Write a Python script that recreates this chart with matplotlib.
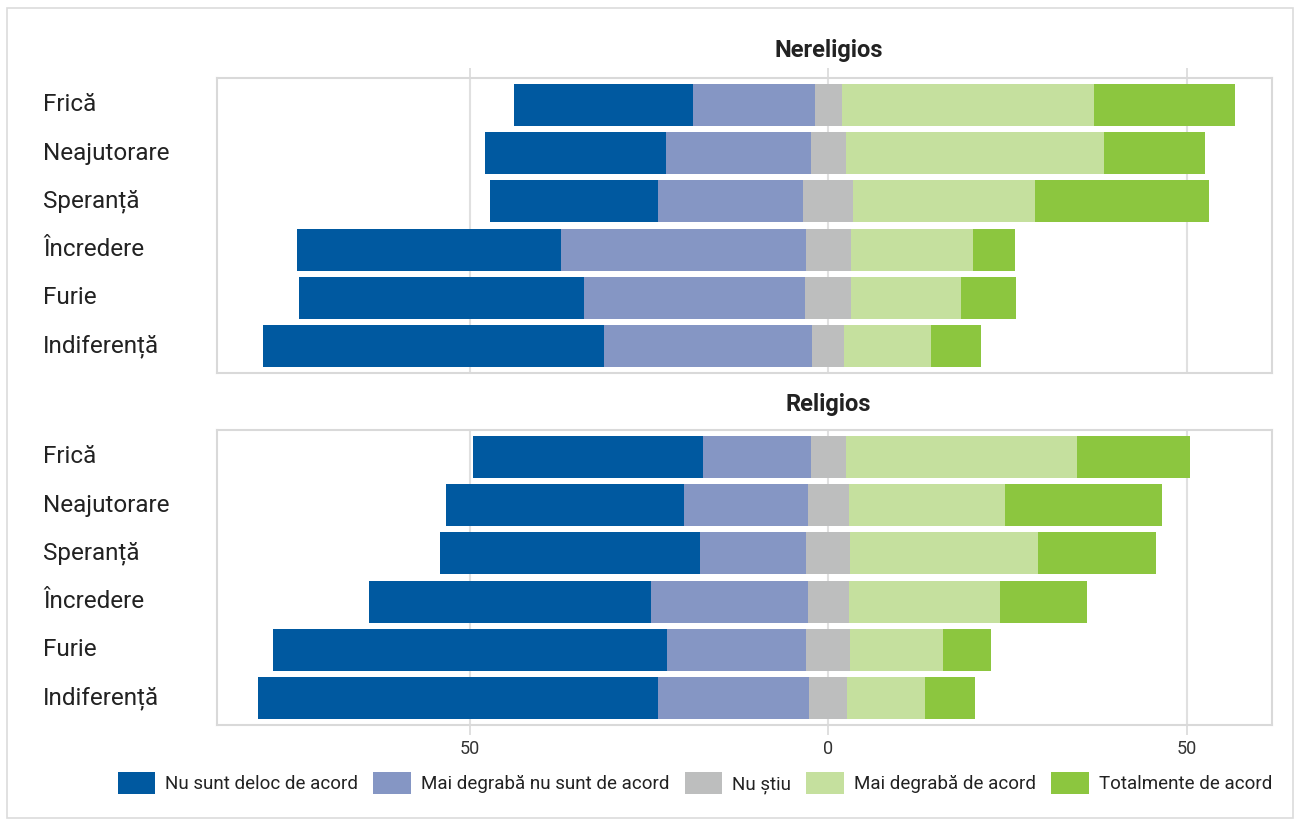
import matplotlib.pyplot as plt
from matplotlib import transforms
from matplotlib.patches import Patch, Rectangle
from matplotlib.ticker import FuncFormatter

plt.rcParams['font.family'] = ['Roboto', 'DejaVu Sans']

emotions = ["Frică", "Neajutorare", "Speranță", "Încredere", "Furie", "Indiferență"]
answers = ["Nu sunt deloc de acord", "Mai degrabă nu sunt de acord", "Nu știu",
           "Mai degrabă de acord", "Totalmente de acord"]
colors = ["#0059a0", "#8596c4", "#bdbebe", "#c5e09e", "#8cc63f"]

# shares (%) per answer, rows in `emotions` order
nerel_deloc = [24.9, 25.2, 23.4, 36.8, 39.8, 47.6]
nerel_mai_nu = [17.0, 20.3, 20.3, 34.2, 30.9, 29.0]
nerel_nu_stiu = [3.8, 4.8, 7.0, 6.2, 6.4, 4.5]
nerel_mai_da = [35.2, 36.0, 25.3, 17.1, 15.3, 12.1]
nerel_total = [19.6, 14.1, 24.3, 5.9, 7.7, 6.9]

rel_deloc = [32.2, 33.2, 36.2, 39.4, 55.0, 55.8]
rel_mai_nu = [15.0, 17.3, 14.9, 21.8, 19.4, 21.1]
rel_nu_stiu = [4.9, 5.8, 6.1, 5.8, 6.1, 5.3]
rel_mai_da = [32.3, 21.7, 26.2, 21.1, 12.9, 10.9]
rel_total = [15.7, 21.9, 16.5, 12.1, 6.7, 6.9]

panels = [
    ("Nereligios", [nerel_deloc, nerel_mai_nu, nerel_nu_stiu, nerel_mai_da, nerel_total]),
    ("Religios", [rel_deloc, rel_mai_nu, rel_nu_stiu, rel_mai_da, rel_total]),
]

W, H = 1296, 826
fig = plt.figure(figsize=(W / 100, H / 100), dpi=100)
fig.patches.append(Rectangle((7 / W, 8 / H), 1286 / W, 810 / H, transform=fig.transFigure,
                             fill=False, edgecolor="#dcdcdc", lw=1.2))

ax_left, ax_w, ax_h = 217 / W, 1055 / W, 295 / H
bottoms = [1 - 373 / H, 1 - 725 / H]
title_y = [50, 405]
edge = "#d9d9d9"
y = list(range(len(emotions)))

for k, (name, series) in enumerate(panels):
    ax = fig.add_axes([ax_left, bottoms[k], ax_w, ax_h])
    left = [-(a + b + c / 2) for a, b, c in zip(series[0], series[1], series[2])]
    for vals, col in zip(series, colors):
        ax.barh(y, vals, left=left, height=0.87, color=col, linewidth=0)
        left = [l + v for l, v in zip(left, vals)]

    ax.set_xlim(-85.3, 61.9)
    ax.set_ylim(5.56, -0.56)
    ax.set_yticks([])
    ax.set_xticks([-50, 0, 50])
    ax.grid(axis="x", color="#e0e0e0", lw=1.5)
    ax.set_axisbelow(True)
    for s in ax.spines.values():
        s.set_color(edge)
        s.set_linewidth(1.5)
    if k == 0:
        ax.xaxis.tick_top()
        ax.tick_params(axis="x", length=7.5, width=1.2, color=edge, labeltop=False)
    else:
        ax.tick_params(axis="x", length=7.5, width=1.2, color=edge, pad=3,
                       labelsize=13, labelcolor="#333333")
        ax.xaxis.set_major_formatter(FuncFormatter(lambda v, p: f"{abs(v):.0f}"))

    tr = transforms.blended_transform_factory(fig.transFigure, ax.transData)
    for i, lab in enumerate(emotions):
        ax.text(43 / W, i, lab, transform=tr, ha="left", va="center",
                fontsize=17.5, color="#222222")

    fig.text(0, 1 - title_y[k] / H, name, fontsize=17, fontweight="bold",
             color="#222222", ha="center", va="center",
             transform=transforms.blended_transform_factory(ax.transData, fig.transFigure))

handles = [Patch(facecolor=c, edgecolor="none", label=a) for a, c in zip(answers, colors)]
fig.legend(handles=handles, loc="center", bbox_to_anchor=(695 / W, 1 - 783 / H), ncol=5,
           frameon=False, fontsize=13.5, handlelength=2.0, handleheight=1.4,
           handletextpad=0.55, columnspacing=0.8, labelcolor="#222222")

fig.savefig("out.png", dpi=100)
